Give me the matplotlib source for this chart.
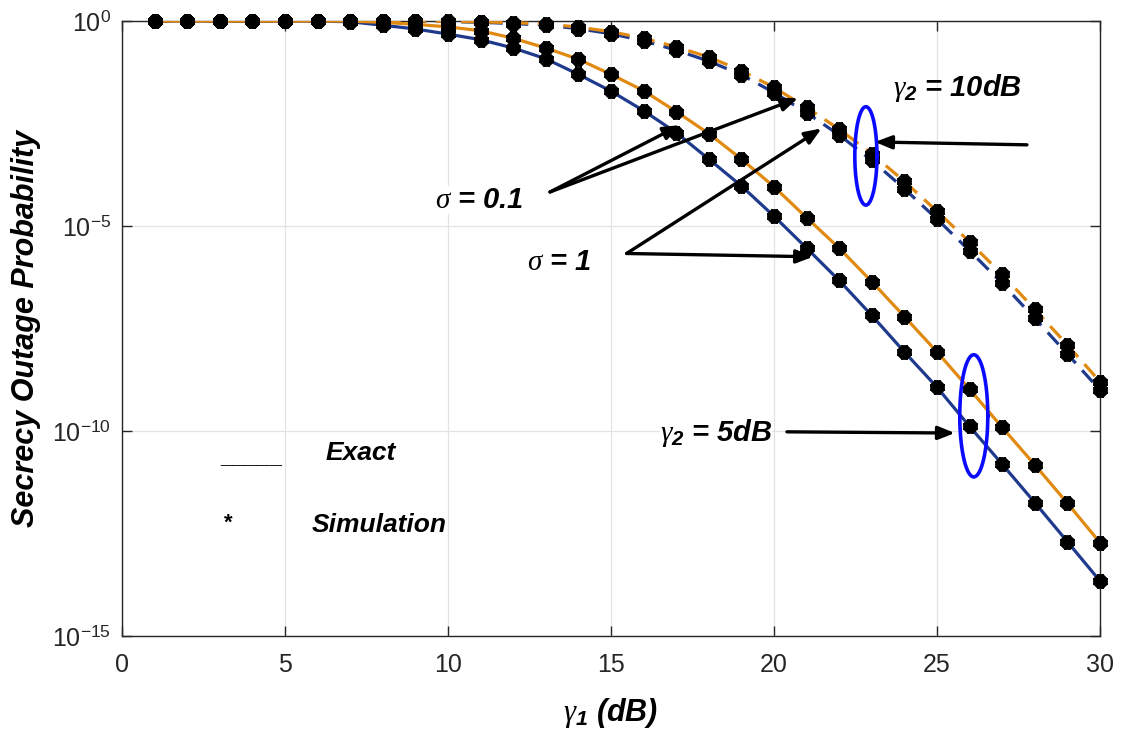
import numpy as np
import matplotlib
matplotlib.use("Agg")
import matplotlib.pyplot as plt
from matplotlib.ticker import FixedLocator, NullLocator, FuncFormatter

# 글꼴 설정 (Helvetica 대신 Liberation Sans)
plt.rcParams['font.family'] = ['Liberation Sans', 'DejaVu Sans']
plt.rcParams['mathtext.fontset'] = 'custom'
plt.rcParams['mathtext.rm'] = 'Liberation Sans'
plt.rcParams['mathtext.it'] = 'Liberation Serif:italic'
plt.rcParams['mathtext.bf'] = 'Liberation Sans:bold:italic'

# 데이터
gamma1_db = list(range(1, 31))

# gamma2 = 5dB, sigma = 1 (파란 실선)
sop_5db_s1 = [1.0, 1.0, 1.0, 1.0, 1.0, 0.995, 0.96, 0.79, 0.64, 0.48,
              0.35, 0.22, 0.12, 5.0e-2, 1.95e-2, 6.5e-3, 1.9e-3, 4.3e-4, 9.5e-5, 1.74e-5,
              2.9e-6, 4.7e-7, 6.6e-8, 8.5e-9, 1.17e-9, 1.3e-10, 1.55e-11, 1.8e-12, 2.0e-13, 2.2e-14]
# gamma2 = 5dB, sigma = 0.1 (주황 실선)
sop_5db_s01 = [1.0, 1.0, 1.0, 1.0, 1.0, 1.0, 0.995, 0.93, 0.83, 0.72,
               0.58, 0.38, 0.22, 0.117, 5.0e-2, 2.0e-2, 6.2e-3, 1.8e-3, 4.3e-4, 9.1e-5,
               1.6e-5, 2.9e-6, 4.4e-7, 6.2e-8, 8.5e-9, 1.05e-9, 1.23e-10, 1.5e-11, 1.74e-12, 1.9e-13]
# gamma2 = 10dB, sigma = 1 (파란 점선)
sop_10db_s1 = [1.0, 1.0, 1.0, 1.0, 1.0, 1.0, 1.0, 1.0, 0.99, 0.97,
               0.93, 0.87, 0.79, 0.65, 0.49, 0.33, 0.195, 0.105, 4.9e-2, 1.8e-2,
               5.8e-3, 1.66e-3, 4.0e-4, 8.1e-5, 1.48e-5, 2.5e-6, 4.0e-7, 5.6e-8, 7.6e-9, 1.0e-9]
# gamma2 = 10dB, sigma = 0.1 (주황 점선)
sop_10db_s01 = [1.0, 1.0, 1.0, 1.0, 1.0, 1.0, 1.0, 1.0, 1.0, 0.98,
                0.955, 0.91, 0.85, 0.71, 0.55, 0.38, 0.234, 0.132, 6.2e-2, 2.4e-2,
                7.8e-3, 2.3e-3, 5.8e-4, 1.23e-4, 2.3e-5, 4.1e-6, 6.6e-7, 9.3e-8, 1.26e-8, 1.6e-9]

x_ticks = [0, 5, 10, 15, 20, 25, 30]
y_ticks = [1e-15, 1e-10, 1e-5, 1e0]

BLUE = '#1f3a8c'
ORANGE = '#e08a12'
ELLIPSE = '#0a0aff'


def draw_ellipse(ax, cx, cly, a, b):
    # 로그축에서 타원을 그리기 위해 매개변수 방정식 사용
    t = np.linspace(0, 2 * np.pi, 200)
    ax.plot(cx + a * np.cos(t), 10 ** (cly + b * np.sin(t)), color=ELLIPSE, lw=2.6, zorder=6)


def arrow(ax, tail, tip):
    ax.annotate('', xy=tip, xytext=tail,
                arrowprops=dict(arrowstyle='-|>,head_length=1.0,head_width=0.4',
                                lw=2.4, color='k', shrinkA=0, shrinkB=0),
                zorder=7)


def main():
    fig = plt.figure(figsize=(11.24, 7.35), dpi=100)
    ax = fig.add_axes([0.1085, 0.1347, 0.8701, 0.8367])

    ax.semilogy(gamma1_db, sop_10db_s1, color=BLUE, lw=2.3, ls=(0, (5, 3)), zorder=3)
    ax.semilogy(gamma1_db, sop_10db_s01, color=ORANGE, lw=2.3, ls=(0, (5, 3)), zorder=3)
    ax.semilogy(gamma1_db, sop_5db_s1, color=BLUE, lw=2.3, zorder=3)
    ax.semilogy(gamma1_db, sop_5db_s01, color=ORANGE, lw=2.3, zorder=3)

    # 시뮬레이션 마커
    for s in [sop_10db_s1, sop_10db_s01, sop_5db_s1, sop_5db_s01]:
        ax.plot(gamma1_db, s, ls='none', marker=(8, 2, 0), ms=10, mew=4.5,
                color='k', clip_on=False, zorder=5)

    ax.set_xlim(0, 30)
    ax.set_ylim(1e-15, 1e0)
    ax.xaxis.set_major_locator(FixedLocator(x_ticks))
    ax.yaxis.set_major_locator(FixedLocator(y_ticks))
    ax.yaxis.set_minor_locator(NullLocator())
    ax.yaxis.set_major_formatter(FuncFormatter(lambda v, p: r'$10^{%d}$' % int(round(np.log10(v)))))
    ax.tick_params(direction='in', length=7, width=1, top=True, right=True,
                   labelsize=18, color='#262626', labelcolor='#262626')
    ax.tick_params(axis='x', pad=12)
    ax.tick_params(axis='y', pad=8)
    ax.grid(True, color='#e3e3e3', lw=0.9)
    ax.set_axisbelow(True)
    for sp in ax.spines.values():
        sp.set_color('#262626')
        sp.set_linewidth(1.0)

    ax.set_xlabel(r'$\gamma_{\mathbf{1}}$ (dB)', fontsize=22, fontweight='bold',
                  fontstyle='italic', labelpad=14)
    ax.set_ylabel('Secrecy Outage Probability', fontsize=22, fontweight='bold',
                  fontstyle='italic', labelpad=8)

    txt = dict(fontsize=21, fontweight='bold', fontstyle='italic', zorder=8)

    # gamma2 = 10dB
    ax.text(23.65, 10 ** -1.63, r'$\gamma_{\mathbf{2}}$ = 10dB', ha='left', va='center', **txt)
    arrow(ax, (27.76, 10 ** -3.02), (23.1, 10 ** -2.95))
    draw_ellipse(ax, 22.82, -3.29, 0.34, 1.2)

    # gamma2 = 5dB
    ax.text(16.5, 10 ** -10.05, r'$\gamma_{\mathbf{2}}$ = 5dB', ha='left', va='center',
            bbox=dict(fc='white', ec='none', pad=0), **txt)
    arrow(ax, (20.4, 10 ** -10.02), (25.55, 10 ** -10.05))
    draw_ellipse(ax, 26.13, -9.63, 0.43, 1.49)

    # sigma = 0.1
    ax.text(9.6, 10 ** -4.37, r'$\sigma$ = 0.1', ha='left', va='center',
            bbox=dict(fc='white', ec='none', pad=0), **txt)
    arrow(ax, (13.13, 10 ** -4.17), (17.12, 10 ** -2.54))
    arrow(ax, (13.13, 10 ** -4.17), (20.74, 10 ** -1.88))

    # sigma = 1
    ax.text(12.42, 10 ** -5.88, r'$\sigma$ = 1', ha='left', va='center',
            bbox=dict(fc='white', ec='none', pad=1), **txt)
    arrow(ax, (15.48, 10 ** -5.67), (21.46, 10 ** -2.62))
    arrow(ax, (15.48, 10 ** -5.67), (21.2, 10 ** -5.75))

    # 범례 (텍스트로 표시)
    ax.text(3.0, 10 ** -10.9, '_____', ha='left', va='bottom', fontsize=16,
            fontweight='bold', zorder=8)
    ax.text(6.23, 10 ** -10.54, 'Exact', ha='left', va='center', fontsize=19,
            fontweight='bold', fontstyle='italic', zorder=8)
    ax.text(3.25, 10 ** -12.25, '*', ha='center', va='center', fontsize=16,
            fontweight='bold', zorder=8)
    ax.text(5.83, 10 ** -12.29, 'Simulation', ha='left', va='center', fontsize=19,
            fontweight='bold', fontstyle='italic', zorder=8)

    fig.savefig('out.png', dpi=100)


if __name__ == "__main__":
    main()
